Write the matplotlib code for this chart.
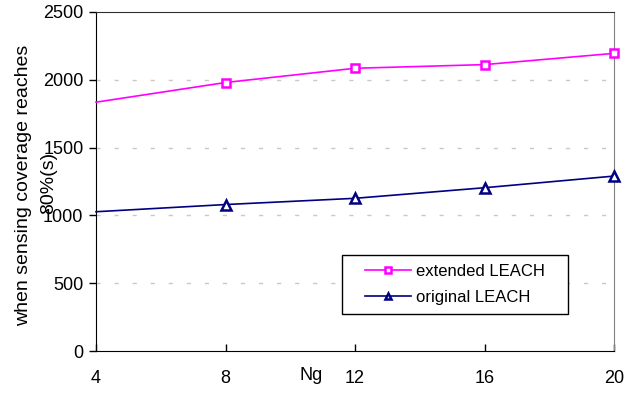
#!/usr/bin/env python3

import matplotlib
matplotlib.use('Agg')
import matplotlib.pyplot as plt
from matplotlib.patches import Rectangle

ng = [4, 8, 12, 16, 20]
extended_leach = [1835, 1980, 2085, 2112, 2195]
original_leach = [1027, 1080, 1126, 1204, 1290]
y_ticks = [0, 500, 1000, 1500, 2000, 2500]

plt.rcParams['font.family'] = ['Liberation Sans', 'DejaVu Sans']


def plot_chart():
    '''
    Draws the two LEACH curves against Ng.
    '''
    fig = plt.figure(figsize=(6.39, 3.93), dpi=100)
    ax = fig.add_axes([96 / 639, 42 / 393, 518 / 639, 339 / 393])

    ax.plot(ng, extended_leach, color='#FF00FF', lw=1.2, marker='s', ms=5.5,
            mfc='white', mec='#FF00FF', mew=1.8, markevery=[1, 2, 3, 4],
            label='extended LEACH', clip_on=False, zorder=3)
    ax.plot(ng, original_leach, color='#000080', lw=1.2, marker='^', ms=6.5,
            mfc='white', mec='#000080', mew=1.8, markevery=[1, 2, 3, 4],
            label='original LEACH', clip_on=False, zorder=3)

    ax.set_xlim(4, 20)
    ax.set_ylim(0, 2500)
    ax.set_xticks(ng)
    ax.set_yticks(y_ticks)
    ax.tick_params(axis='y', direction='out', length=5, width=1, labelsize=13, pad=4)
    ax.tick_params(axis='x', direction='in', length=5, width=1, labelsize=13, pad=13.5)

    for v in y_ticks[1:-1]:
        ax.axhline(v, color='#c8c8c8', lw=1, ls=(0, (3, 10)), zorder=1)

    ax.spines['left'].set_color('black')
    ax.spines['bottom'].set_color('black')
    ax.spines['top'].set_color('#303030')
    ax.spines['right'].set_color('#808080')

    fig.text(311 / 639, 1 - 376 / 393, 'Ng', fontsize=13, ha='center', va='center')
    fig.text(24 / 639, 1 - 185 / 393, 'when sensing coverage reaches', rotation=90,
             fontsize=14, ha='center', va='center')
    fig.text(49 / 639, 1 - 183 / 393, '80%(s)', rotation=90,
             fontsize=14, ha='center', va='center')

    # legend box drawn by hand so the entries can sit centred in it
    box = (0.475, 0.109, 0.436, 0.174)
    ax.add_patch(Rectangle(box[:2], box[2], box[3], transform=ax.transAxes,
                           facecolor='white', edgecolor='black', lw=1,
                           zorder=4, clip_on=False))
    leg = ax.legend(loc='center', bbox_to_anchor=(box[0] + box[2] / 2, box[1] + box[3] / 2),
                    fontsize=12, frameon=False, handlelength=2.8,
                    handletextpad=0.3, labelspacing=0.65, borderpad=0)
    leg.set_zorder(5)
    for h in leg.legend_handles:
        h.set_markersize(5)

    fig.savefig('out.png', dpi=100)


if __name__ == '__main__':
    plot_chart()
